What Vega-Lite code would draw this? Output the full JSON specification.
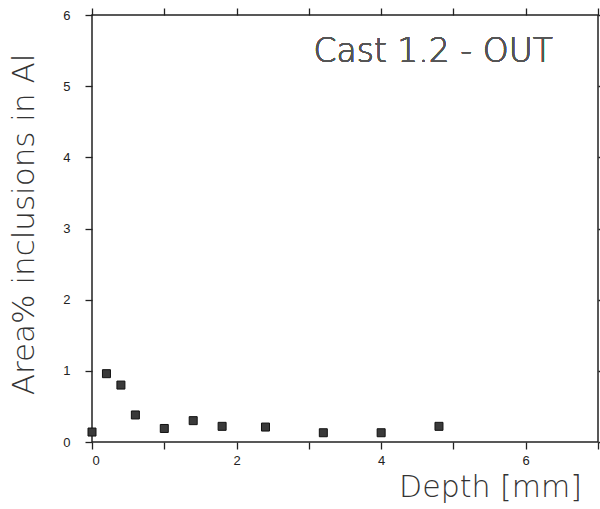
{
  "$schema": "https://vega.github.io/schema/vega-lite/v6.json",
  "width": 506,
  "height": 427,
  "autosize": {"type": "none"},
  "padding": {"left": 92, "top": 15, "right": 2, "bottom": 67},
  "background": "white",
  "config": {
    "view": {"stroke": "#222", "strokeWidth": 1.5},
    "axis": {
      "domain": false,
      "grid": false,
      "tickColor": "#222",
      "tickWidth": 1.3,
      "tickSize": 7,
      "labelFont": "Liberation Sans",
      "labelFontSize": 13,
      "labelColor": "#222",
      "titleFont": "DejaVu Sans",
      "titleFontWeight": 200,
      "titleFontSize": 30,
      "titleColor": "#333"
    }
  },
  "data": {
    "values": [
      {"depth": 0.0, "area": 0.14},
      {"depth": 0.2, "area": 0.96},
      {"depth": 0.4, "area": 0.80},
      {"depth": 0.6, "area": 0.38},
      {"depth": 1.0, "area": 0.19},
      {"depth": 1.4, "area": 0.30},
      {"depth": 1.8, "area": 0.22},
      {"depth": 2.4, "area": 0.21},
      {"depth": 3.2, "area": 0.13},
      {"depth": 4.0, "area": 0.13},
      {"depth": 4.8, "area": 0.22}
    ]
  },
  "resolve": {"axis": {"x": "independent", "y": "independent"}},
  "layer": [
    {
      "mark": {"type": "point", "shape": "square", "filled": true, "size": 64, "fill": "#3a3a3a", "stroke": "#111", "strokeWidth": 1, "opacity": 1},
      "encoding": {
        "x": {
          "field": "depth", "type": "quantitative",
          "scale": {"domain": [0, 7], "nice": false, "zero": false},
          "axis": {
            "orient": "bottom",
            "values": [0, 1, 2, 3, 4, 5, 6, 7],
            "labelExpr": "datum.value % 2 === 0 && datum.value < 7 ? datum.label : ''",
            "labelPadding": 5,
            "title": "Depth [mm]",
            "titleAnchor": null,
            "titleAlign": "center",
            "titleBaseline": "alphabetic",
            "titleX": 398,
            "titleY": 54
          }
        },
        "y": {
          "field": "area", "type": "quantitative",
          "scale": {"domain": [0, 6], "nice": false},
          "axis": {
            "orient": "left",
            "values": [0, 1, 2, 3, 4, 5, 6],
            "labelPadding": 15,
            "title": "Area% inclusions in Al",
            "titleAnchor": null,
            "titleAngle": -90,
            "titleAlign": "center",
            "titleBaseline": "alphabetic",
            "titleFontSize": 31,
            "titleX": -58.5,
            "titleY": 209
          }
        }
      }
    },
    {
      "mark": {"type": "text", "font": "DejaVu Sans", "fontWeight": 200, "fontSize": 33, "fill": "#555", "align": "center", "baseline": "alphabetic"},
      "encoding": {
        "text": {"value": "Cast 1.2 - OUT"},
        "x": {
          "datum": 4.72, "type": "quantitative",
          "axis": {"orient": "top", "values": [0, 1, 2, 3, 4, 5, 6, 7], "labels": false, "title": null}
        },
        "y": {
          "datum": 5.34, "type": "quantitative",
          "axis": {"orient": "right", "values": [0, 1, 2, 3, 4, 5, 6], "labels": false, "title": null}
        }
      }
    }
  ]
}
